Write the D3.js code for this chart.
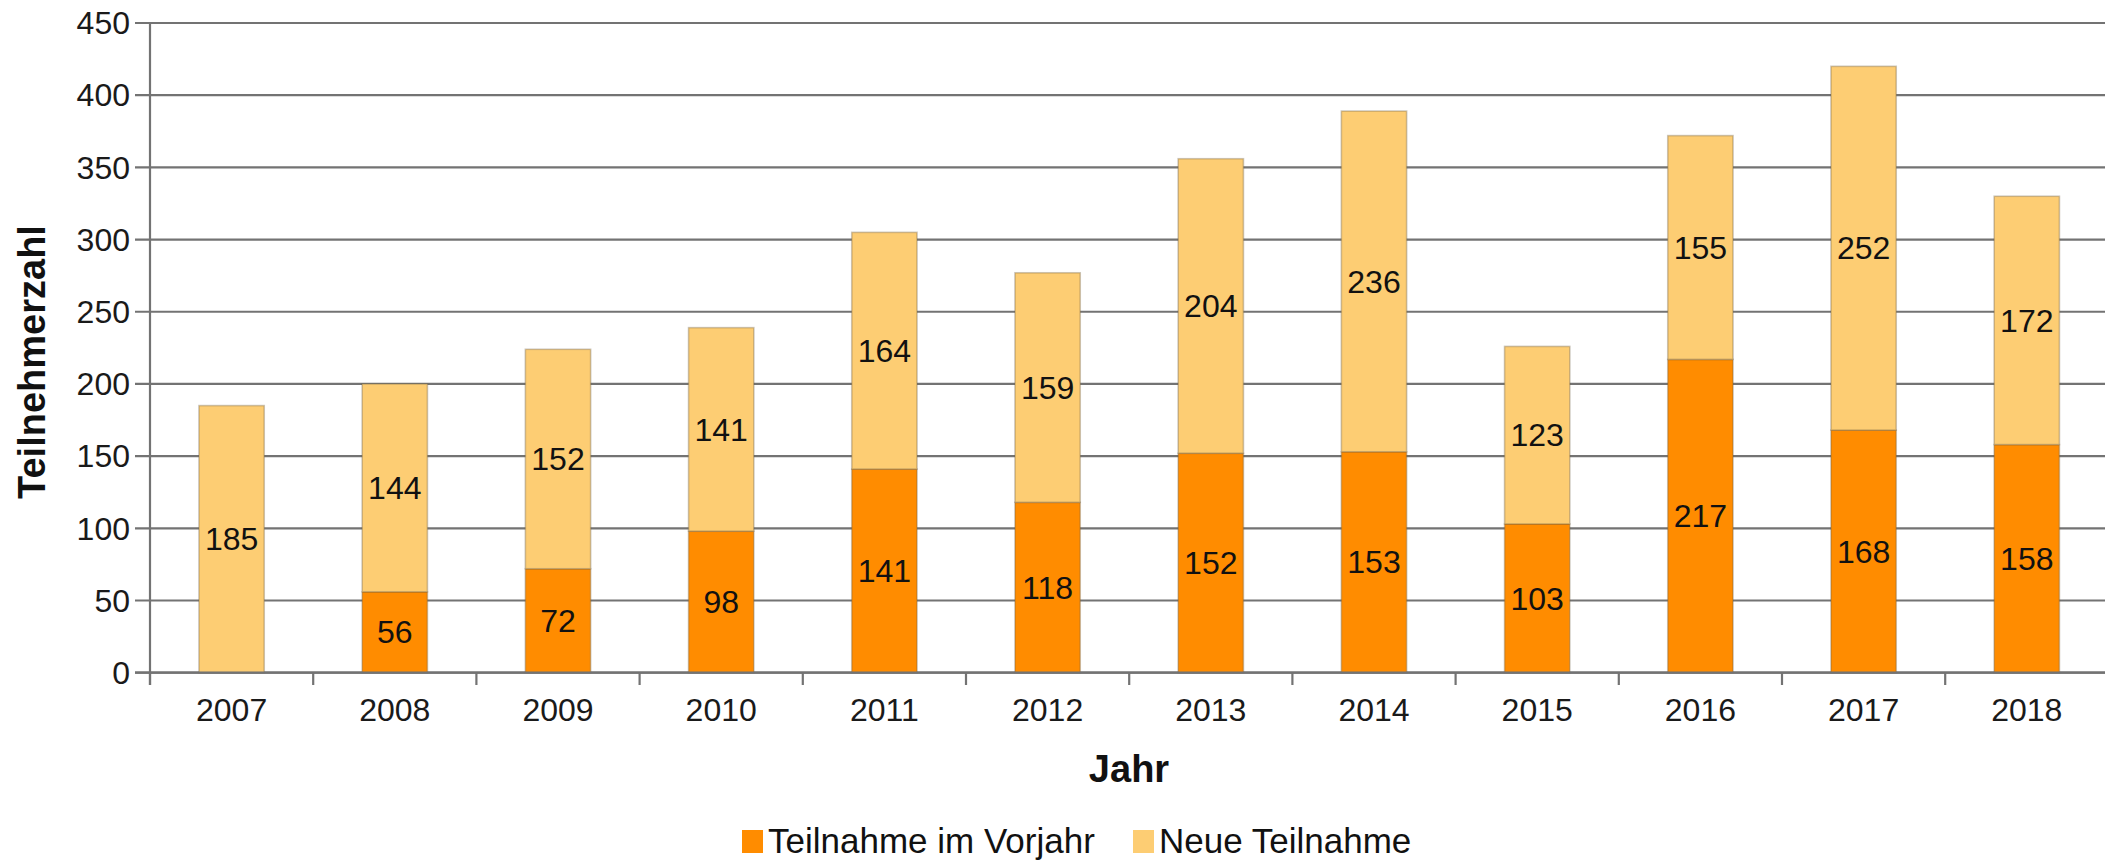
<!DOCTYPE html>
<html><head><meta charset="utf-8">
<script src="https://cdn.jsdelivr.net/npm/d3@7"></script>
<style>
html,body{margin:0;padding:0;background:#fff;}
svg{display:block;font-family:"Liberation Sans",Arial,sans-serif;}
</style></head>
<body>
<svg id="chart" width="2105" height="862"></svg>
<script>
const years = ["2007","2008","2009","2010","2011","2012","2013","2014","2015","2016","2017","2018"];
const vorjahr = [0,56,72,98,141,118,152,153,103,217,168,158];
const neue = [185,144,152,141,164,159,204,236,123,155,252,172];
const yTicks = [0,50,100,150,200,250,300,350,400,450];
const seriesNames = ["Teilnahme im Vorjahr","Neue Teilnahme"];
const colors = ["#ff8c00","#fdcd73"];
const yTitle = "Teilnehmerzahl";
const xTitle = "Jahr";

(function(){
const svg = d3.select("#chart");
const pLeft = 150, pRight = 2108.4, pTop = 23, pBottom = 672.7;

const x = d3.scaleBand().domain(years).range([pLeft,pRight]).paddingInner(0.6).paddingOuter(0.3);
const y = d3.scaleLinear().domain([0,450]).range([pBottom,pTop]);

const gridColor = "#737373";

// gridlines
svg.append("g").selectAll("line").data(yTicks).join("line")
  .attr("x1",135).attr("x2",2105)
  .attr("y1",d=>y(d)).attr("y2",d=>y(d))
  .attr("stroke",gridColor).attr("stroke-width",2.2);

// y tick labels
svg.append("g").selectAll("text").data(yTicks).join("text")
  .attr("x",130).attr("y",d=>y(d)).attr("dy","0.35em")
  .attr("text-anchor","end").attr("font-size",32).attr("fill","#1a1a1a")
  .text(d=>d);

// bars
const stackData = years.map((yr,i)=>({year:yr, v:vorjahr[i], n:neue[i]}));
const stack = d3.stack().keys(["v","n"])(stackData);
const gBars = svg.append("g");
stack.forEach((layer,li)=>{
  gBars.append("g").selectAll("rect").data(layer.filter(d=>d[1]-d[0]>0)).join("rect")
    .attr("x",d=>x(d.data.year))
    .attr("width",x.bandwidth())
    .attr("y",d=>y(d[1]))
    .attr("height",d=>y(d[0])-y(d[1]))
    .attr("fill",colors[li])
    .attr("stroke","rgba(110,95,70,0.35)").attr("stroke-width",1.6);
});

// value labels
stack.forEach((layer,li)=>{
  gBars.append("g").selectAll("text").data(layer.filter(d=>d[1]-d[0]>0)).join("text")
    .attr("x",d=>x(d.data.year)+x.bandwidth()/2)
    .attr("y",d=>y((d[0]+d[1])/2)).attr("dy","0.35em")
    .attr("text-anchor","middle").attr("font-size",32).attr("fill","#111")
    .text(d=>d[1]-d[0]);
});

// axes lines
svg.append("line").attr("x1",pLeft).attr("x2",pLeft).attr("y1",24).attr("y2",685)
  .attr("stroke",gridColor).attr("stroke-width",2.2);
svg.append("line").attr("x1",135).attr("x2",2105).attr("y1",pBottom).attr("y2",pBottom)
  .attr("stroke",gridColor).attr("stroke-width",2.2);
const bounds = d3.range(years.length+1).map(i=>pLeft+i*x.step());
svg.append("g").selectAll("line").data(bounds).join("line")
  .attr("x1",d=>d).attr("x2",d=>d).attr("y1",pBottom).attr("y2",685)
  .attr("stroke",gridColor).attr("stroke-width",2.2);

// x tick labels
svg.append("g").selectAll("text").data(years).join("text")
  .attr("x",d=>x(d)+x.bandwidth()/2).attr("y",721)
  .attr("text-anchor","middle").attr("font-size",32).attr("fill","#1a1a1a")
  .text(d=>d);

// axis titles
svg.append("text").attr("x",1129).attr("y",782).attr("text-anchor","middle")
  .attr("font-size",38).attr("font-weight","bold").attr("fill","#111").text(xTitle);
svg.append("text").attr("transform","translate(45,362) rotate(-90)")
  .attr("text-anchor","middle").attr("font-size",38).attr("font-weight","bold").attr("fill","#111").text(yTitle);

// legend
const legendX = [742,1133];
seriesNames.forEach((name,i)=>{
  svg.append("rect").attr("x",legendX[i]).attr("y",830).attr("width",21).attr("height",23)
    .attr("fill",colors[i]);
  svg.append("text").attr("x",legendX[i]+26).attr("y",853)
    .attr("font-size",35).attr("fill","#111").text(name);
});
})();
</script>
</body></html>
